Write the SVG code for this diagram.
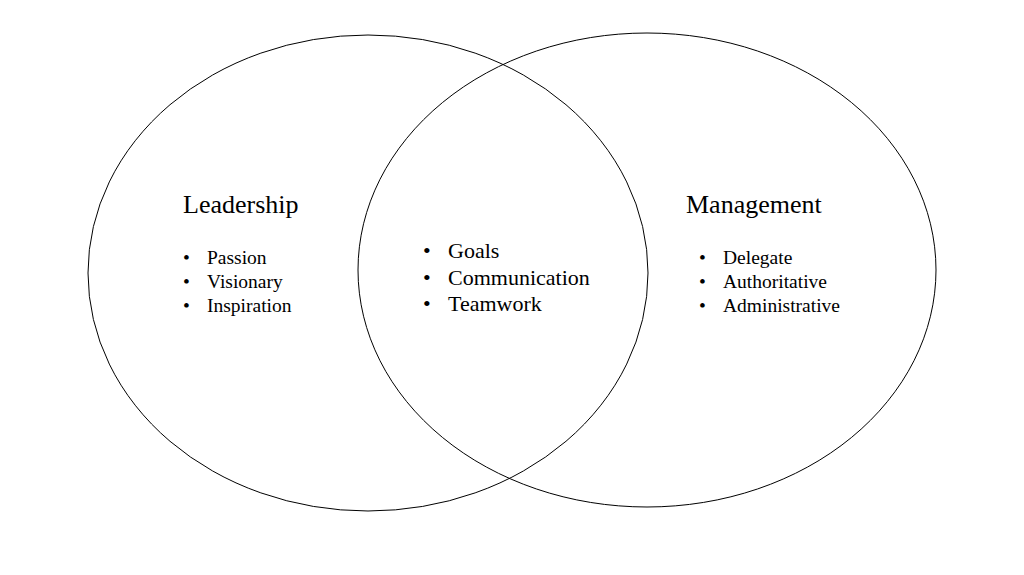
<svg xmlns="http://www.w3.org/2000/svg" width="1024" height="575" viewBox="0 0 1024 575">
<style>
.c{fill:none;stroke:#000;stroke-width:1}
text{font-family:"Liberation Serif",serif;fill:#000}
.h{font-size:26px}
.s{font-size:19.5px}
.m{font-size:22px}
</style>
<rect width="1024" height="575" fill="#fff"/>
<g id="leadership">
<ellipse class="c" cx="368" cy="273" rx="280" ry="238"/>
<text class="h" x="183" y="213">Leadership</text>
<text class="s" x="183" y="264">•</text><text class="s" x="207" y="264">Passion</text>
<text class="s" x="183" y="288">•</text><text class="s" x="207" y="288">Visionary</text>
<text class="s" x="183" y="312">•</text><text class="s" x="207" y="312">Inspiration</text>
</g>
<g id="management">
<ellipse class="c" cx="647" cy="270" rx="289" ry="237"/>
<text class="h" x="686" y="213">Management</text>
<text class="s" x="699" y="264">•</text><text class="s" x="723" y="264">Delegate</text>
<text class="s" x="699" y="288">•</text><text class="s" x="723" y="288">Authoritative</text>
<text class="s" x="699" y="312">•</text><text class="s" x="723" y="312">Administrative</text>
</g>
<g id="overlap">
<text class="m" x="423" y="258">•</text><text class="m" x="448" y="258">Goals</text>
<text class="m" x="423" y="285">•</text><text class="m" x="448" y="285">Communication</text>
<text class="m" x="423" y="311">•</text><text class="m" x="448" y="311">Teamwork</text>
</g>
<g id="connectors"></g>
</svg>
